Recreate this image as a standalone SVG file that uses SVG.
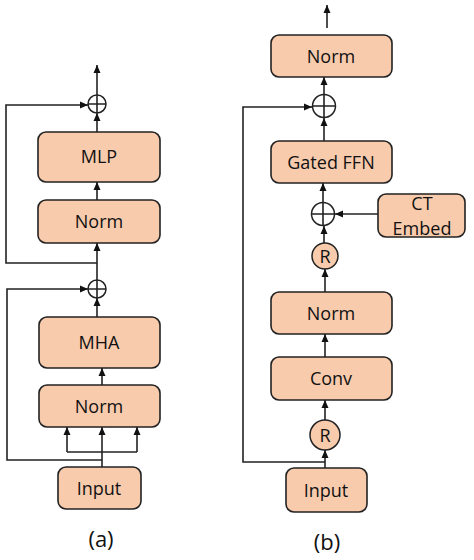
<svg xmlns="http://www.w3.org/2000/svg" width="474" height="560" viewBox="0 0 474 560">
<defs>
<marker id="ah" markerWidth="8" markerHeight="8" viewBox="0 0 8 8" refX="8" refY="4" orient="auto" markerUnits="userSpaceOnUse">
<path d="M0,0.5 L8,4 L0,7.5 z" fill="#111"/>
</marker>
<style>
.box{fill:#F8CBAD;stroke:#222;stroke-width:1.6}
.op{fill:#fff;stroke:#222;stroke-width:1.5}
.rc{fill:#F8CBAD;stroke:#222;stroke-width:1.5}
.ln{fill:none;stroke:#222;stroke-width:1.6}
.ar{fill:none;stroke:#222;stroke-width:1.6;marker-end:url(#ah)}
text{font-family:"Open Sans","Liberation Sans",sans-serif;font-size:18px;fill:#111;text-anchor:middle}
.cap{font-size:22px}
</style>
</defs>
<rect width="474" height="560" fill="#fff"/>
<g id="connectors">
<path class="ar" d="M97,95 V65"/>
<path class="ar" d="M97,132 V113"/>
<path class="ar" d="M97,200 V182"/>
<path class="ar" d="M97,280 V243"/>
<path class="ar" d="M97,263 H6 V105 H88"/>
<path class="ar" d="M97,317 V298"/>
<path class="ar" d="M102,385 V368"/>
<path class="ar" d="M102,467 V427"/>
<path class="ln" d="M67,452 H137"/>
<path class="ar" d="M67,452 V427"/>
<path class="ar" d="M137,452 V427"/>
<path class="ar" d="M102,460 H7 V289 H88"/>
<path class="ar" d="M327,28 V5"/>
<path class="ar" d="M324,95 V77"/>
<path class="ar" d="M324,141 V118"/>
<path class="ar" d="M325,462 H243 V107 H312"/>
<path class="ar" d="M323,202 V183"/>
<path class="ar" d="M324,243 V226"/>
<path class="ar" d="M378,214 H335"/>
<path class="ar" d="M325,292 V269"/>
<path class="ar" d="M325,357 V334"/>
<path class="ar" d="M325,420 V400"/>
<path class="ar" d="M325,468 V450"/>
</g>
<g id="a-add2"><circle class="op" cx="97" cy="104" r="9"/><path class="ln" d="M88,104 H106 M97,95 V113"/></g>
<g id="a-mlp"><rect class="box" x="38" y="132" width="122" height="50" rx="8"/><text x="99" y="163">MLP</text></g>
<g id="a-norm2"><rect class="box" x="38" y="200" width="122" height="43" rx="8"/><text x="99" y="228">Norm</text></g>
<g id="a-add1"><circle class="op" cx="97" cy="289" r="9"/><path class="ln" d="M88,289 H106 M97,280 V298"/></g>
<g id="a-mha"><rect class="box" x="39" y="317" width="121" height="51" rx="8"/><text x="99" y="349">MHA</text></g>
<g id="a-norm1"><rect class="box" x="39" y="385" width="121" height="42" rx="8"/><text x="99" y="413">Norm</text></g>
<g id="a-input"><rect class="box" x="58" y="467" width="83" height="42" rx="8"/><text x="99" y="495">Input</text></g>
<g id="b-norm-top"><rect class="box" x="271" y="35" width="121" height="42" rx="8"/><text x="331" y="63">Norm</text></g>
<g id="b-add2"><circle class="op" cx="324" cy="106" r="11.5"/><path class="ln" d="M312.5,106 H335.5 M324,94.5 V117.5"/></g>
<g id="b-ffn"><rect class="box" x="271" y="141" width="121" height="42" rx="8"/><text x="331" y="169">Gated FFN</text></g>
<g id="b-add1"><circle class="op" cx="323" cy="214" r="11.5"/><path class="ln" d="M311.5,214 H334.5 M323,202.5 V225.5"/></g>
<g id="b-ct"><rect class="box" x="378" y="194" width="87" height="43" rx="8"/><text x="422" y="210">CT</text><text x="422" y="235">Embed</text></g>
<g id="b-r1"><circle class="rc" cx="325" cy="256" r="13"/><text x="325" y="262.5">R</text></g>
<g id="b-norm"><rect class="box" x="271" y="292" width="121" height="42" rx="8"/><text x="331" y="320">Norm</text></g>
<g id="b-conv"><rect class="box" x="271" y="357" width="121" height="43" rx="8"/><text x="331" y="385">Conv</text></g>
<g id="b-r0"><circle class="rc" cx="325" cy="435" r="15"/><text x="325" y="441.5">R</text></g>
<g id="b-input"><rect class="box" x="286" y="468" width="81" height="44" rx="8"/><text x="326" y="497">Input</text></g>
<text class="cap" x="101" y="547">(a)</text>
<text class="cap" x="327" y="550">(b)</text>
</svg>
